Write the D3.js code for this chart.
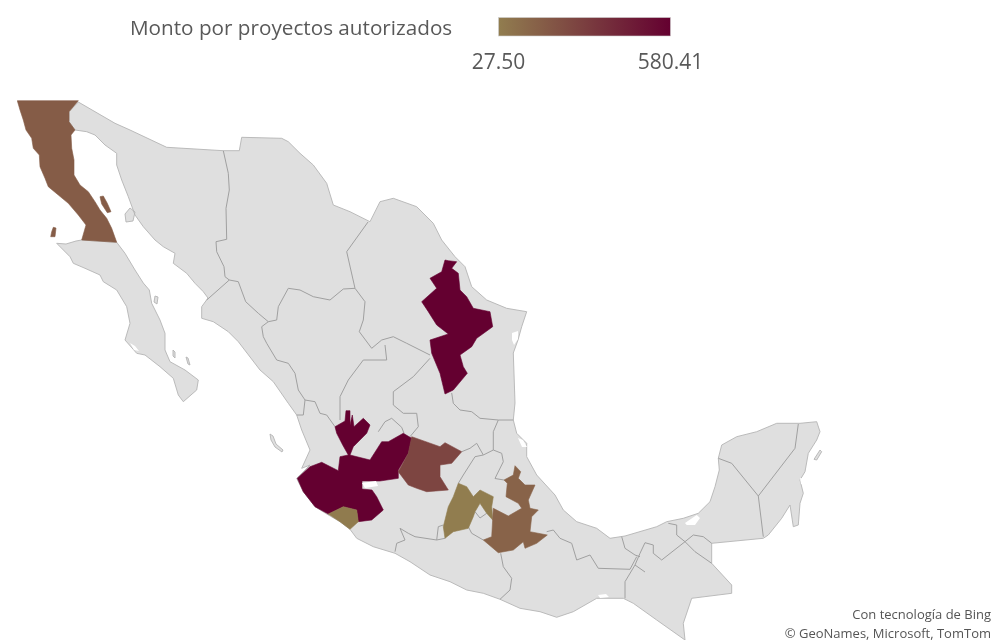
<!DOCTYPE html>
<html>
<head>
<meta charset="utf-8">
<script src="https://cdn.jsdelivr.net/npm/d3@7"></script>
<style>
  html, body { margin: 0; background: #fff; }
  svg { display: block; font-family: "Open Sans", sans-serif; filter: blur(0.7px); }
</style>
</head>
<body>
<div id="map"></div>
<script>
const width = 992, height = 640;

// legend
const legendTitle = "Monto por proyectos autorizados";
const legendDomain = [27.50, 580.41];
const attribution = ["Con tecnología de Bing", "© GeoNames, Microsoft, TomTom"];

// states that have a value
const stateNames = ["Baja California", "Nuevo León", "Jalisco", "Colima", "Guanajuato", "México", "Puebla"];
const stateValues = [172, 580.41, 580.41, 38, 276, 27.50, 143];

// outlines, in map units
const bajaCalifornia = [[17.3,100.7],[78.3,100.7],[69,111.7],[69,121.7],[75,130],[71,135],[71.7,148.3],[74,160],[74,175],[80,185],[88.3,191.7],[95,201.7],[100,210],[106.7,218.3],[111.7,228.3],[116.7,242.3],[81.7,240],[86,225],[78.3,215],[68.3,203.3],[58.3,195],[48.3,186.7],[45,178.3],[40,166.7],[39.3,155],[33.3,148.3],[31.7,138.3],[26,130],[23.3,120],[20,110]];
const angelIsland = [[100,196.7],[103.3,196],[107.3,203.3],[111,211.7],[107.3,212.7],[101.7,204]];
const cedrosIsland = [[53.3,227.3],[56,228],[55,236.7],[50.7,236.7],[51.7,231.7]];
const nuevoLeon = [[445,260],[448.3,260.7],[456.7,261.7],[451.7,268.3],[458.3,273.3],[460,290],[466.7,296.7],[473.3,308.3],[490,311.7],[492.7,326.7],[476.7,338.3],[471.7,346.7],[460,355],[463.3,366.7],[467.3,373.3],[453.3,390],[445,394],[440,373.3],[431.7,353.3],[430,340],[448.3,334],[436.7,325],[428.3,311.7],[421.7,301.7],[436.7,288.3],[430,278.3],[441.7,271.7]];
const jalisco = [[335,426.7],[345,421],[346,410.7],[350,410.7],[350,425],[352.3,415],[354,426.7],[363.3,418.3],[370,425],[366.7,433.3],[353.3,446.7],[350,455],[370,460],[381.7,441.7],[388.3,441.7],[403.3,433.3],[411.7,438.3],[408.3,453.3],[398.3,470],[398.3,478.3],[380,481],[362,481],[362,489],[372,490],[376.7,496.7],[383.3,510],[371.7,520],[358.3,521.7],[356.7,510],[343.3,506.7],[328.3,514],[315,506.7],[303.3,491.7],[297.3,478.3],[310,466.7],[321.7,462.3],[338.3,470.7],[340,456.7],[348.3,455],[342.7,445],[336.7,433.3]];
const colima = [[328.3,514],[343.3,506.7],[356.7,510],[358.3,521.7],[350,529.3],[340,521.7]];
const guanajuato = [[411.7,436.7],[440,446.7],[445,442.7],[461.7,451.7],[451.7,463.3],[440,465],[440,476.7],[448.3,490],[426.7,491.7],[416.7,488.3],[408.3,485],[398.3,471.7],[408.3,453.3]];
const estadoMexico = [[458.3,483.3],[466.7,486.7],[473.3,496.7],[480,490],[493.3,496.7],[491.7,506.7],[492.7,520],[486.7,513.3],[480,503.3],[475,511.7],[473.3,516.7],[468.3,528.3],[453.3,531.7],[445,538.3],[443.3,526.7],[448.3,506.7],[453.3,496.7]];
const puebla = [[515,465.7],[520.7,471.7],[518.3,478.3],[525,485],[535,485],[528.3,500],[530,508.3],[538.3,510],[531.7,516.7],[530,531.7],[547.3,535],[536.7,543.3],[525,548.3],[523.3,541.7],[513.3,550],[498.3,552.7],[483.3,540],[491.7,536.7],[493.3,508.3],[508.3,516],[521.7,508.3],[518.3,503.3],[506,496.7],[507.3,483.3],[504,480],[513.3,475]];
const stateShapes = [[bajaCalifornia, angelIsland, cedrosIsland], [nuevoLeon], [jalisco], [colima], [guanajuato], [estadoMexico], [puebla]];

const mainland = [[78.3,102],[115,123.3],[130,130],[166.7,147.3],[223.3,150.7],[239.3,150.7],[241.7,137.3],[281.7,138.3],[288.3,141.7],[300,153.3],[313.3,165],[326.7,183.3],[333.3,205],[350,211.7],[370,221.7],[380,201.7],[393.3,198.3],[416.7,206.7],[433.3,223.3],[441.7,240],[455,256.7],[465,266.7],[471.7,286.7],[486.7,300],[506.7,308.3],[526.7,311.7],[521.7,326.7],[518,340],[513.3,353],[515,403],[513.3,420],[516.7,433.3],[526.7,443.3],[526.7,456.7],[536.7,475],[555,495],[563.3,510],[576.7,521.7],[596.7,528.3],[610,538.3],[625,536],[656.7,526.7],[666.7,521.7],[683.3,518.3],[698.3,513.3],[710,501.7],[715,486.7],[719.3,470],[718.3,458.3],[721.7,445],[736.7,436.7],[756.7,431.7],[776.7,423.3],[800,423.3],[816.7,421.7],[820,431.7],[816.7,440],[808.3,453.3],[805,471.7],[800,480],[803.3,493.3],[800,503.3],[798.3,525],[793.3,526.7],[790,505],[781.7,518.3],[768.3,535],[763.3,538.3],[711.7,543.3],[711.7,563.3],[731.7,585],[731.7,593.3],[691.7,598.3],[683.3,623.3],[685,640],[656.7,620],[633.3,603.3],[623.3,598.3],[596.7,598.3],[573.3,611.7],[556.7,617.3],[540,611.7],[520,608.3],[500,599.3],[483.3,593.3],[466.7,590],[450,581.7],[430,575],[410,561.7],[395,553.3],[373.3,546.7],[356.7,538.3],[350,529.3],[340,521.7],[326.7,514],[315,506.7],[303.3,491.7],[296.7,478.3],[310,465],[301.7,468.3],[310,450],[301.7,430],[296.7,415],[288.3,403.3],[273.3,381.7],[260,370],[238.3,341.7],[228.3,331.7],[213.3,321.7],[201.7,318.3],[201.7,306.7],[208,298],[203.3,291.7],[195,283.3],[186.7,273.3],[173.3,263.3],[175,253.3],[163.3,246.7],[155,240],[143.3,226.7],[135,215],[128.3,196.7],[121.7,180],[116.7,165],[116.7,153.3],[105,145],[95,135],[86.7,131.7],[75,130],[69,121.7],[69,111.7]];
const bajaSur = [[81.7,240],[116.7,242.3],[125,253.3],[135,270],[143.3,283],[149.3,290],[151.7,303.3],[160,320],[165,333.3],[165,350],[170,361.7],[185,370],[198.3,380],[196.7,390],[183.3,401.7],[178.3,395],[173.3,378.3],[160,366.7],[145,355],[136.7,353.3],[125,340],[130,323.3],[126.7,306.7],[116.7,290],[103.3,281.7],[100,275],[85,268.3],[73.3,263.3],[70,256.7],[56.7,243.3],[66,244],[76,241]];
const tiburonIsland = [[130,208],[135,212],[133,221],[126,222],[125,214]];
const mariasIslands = [[270,434],[273,436],[276,444],[283,450],[282,452],[275,447],[271,440]];
const cozumelIsland = [[820,450],[821.7,451.7],[816.7,460],[814,459.3]];
const carmenIsland = [[155,296],[158,297],[157,304],[154,302]];
const joseIsland = [[173,350],[175,352],[175,358],[173,356]];
const cerralvoIsland = [[186,357],[188,358],[190,365],[188,364]];
const landShapes = [mainland, bajaSur, tiburonIsland, mariasIslands, cozumelIsland, carmenIsland, joseIsland, cerralvoIsland];

// white water bodies on top of the land
const chapala = [[362,483],[376,481],[378,486],[365,488]];
const terminos = [[685,523],[696.7,515],[700,518],[695,525],[686.7,525]];
const madre = [[512,333],[518,331],[518,339],[514,345],[512,340]];
const tamiahua = [[518,438],[523,440],[527,447],[522,447]];
const magdalena = [[130,343],[135,346],[139,351],[134,350]];
const cuyutlan = [[598,595],[606,594],[609,597],[600,598]];
const bacalar = [[800,478],[805,479],[805,485],[801,484]];
const lakeShapes = [chapala, terminos, madre, tamiahua, magdalena, cuyutlan, bacalar];

// borders between the states
const borderLines = [
  [[223.3,150.7],[228.3,173.3],[229.3,190],[226,208.3],[226.7,239.3],[216,241.7],[216.7,251.7],[224,266.7],[225,276.7],[229.3,280],[206.7,300]],
  [[229.3,280],[238.3,281.7],[245.7,301.7],[258.3,313.3],[268.3,321.7],[261.7,326.7],[263.3,336.7],[266.7,343.3],[276.7,360],[288.3,363.3],[295,373.3],[298.3,390],[305,400],[303.3,415],[296.7,415]],
  [[305,400],[315,401.7],[320,413.3],[326.7,415],[335,426.7]],
  [[268.3,321.7],[276.7,320],[278.3,306.7],[288.3,288.3],[300,290],[313.3,296.7],[330,300],[343.3,289],[355,288.3]],
  [[368,222],[346.7,251.7],[355,288.3],[365,301.7],[363.3,320],[359.3,331.7],[371.7,348.3],[381.7,340],[393.3,336.7],[406.7,343.3],[430,355]],
  [[385,345],[386.7,360],[363.3,360],[348.3,380],[340,396.7],[340,420]],
  [[430,358.3],[413.3,376.7],[393.3,391.7],[393.3,405],[403.3,413.3],[416.7,413.3],[418.3,426.7],[410,436.7]],
  [[378.3,431.7],[385,421.7],[391.7,418.3],[401.7,427.3],[404,433.3]],
  [[451.7,393],[453.3,403.3],[460,410],[471.7,411.7],[480,418.3],[498.3,420],[513.3,420]],
  [[498.3,420],[493.3,431.7],[493.3,450],[483.3,455],[476.7,443.3],[470,448.3],[461.7,451.7]],
  [[475,456.7],[463.3,475],[458.3,483.3]],
  [[483.3,455],[475,456.7]],
  [[493.3,450],[501.7,453.3],[503.3,461.7],[496.7,475],[495,478.5],[504,480]],
  [[395,551.7],[396.7,543.3],[405,540],[400,528.3],[408.3,533.3],[415,536.7],[436.7,540],[445,538.3]],
  [[436.7,540],[438.3,526.7],[443.3,525]],
  [[468.3,526.7],[471.7,533.3],[483.3,540]],
  [[475,511.7],[480,518],[486.7,513.3]],
  [[500.7,553.3],[503.3,566.7],[511.7,578.3],[510,590],[500,599.3]],
  [[546.7,531.7],[553.3,530],[560,538.3],[571.7,543.3],[576.7,560],[590,555],[598.3,568.3],[630,569.3],[636.7,556.7]],
  [[625,598.3],[625,581.7],[635,565],[640,553.3],[645,542.7],[653.3,545],[653.3,553.3],[661.7,560],[685,541.7],[693.3,535],[703.3,536.7],[711.7,543.3]],
  [[621.7,536.7],[625,548.3],[635,555],[640,556.7]],
  [[635,565],[645,572]],
  [[668.3,523.3],[676.7,525],[676.7,535],[685,541.7],[695,551.7],[711.7,563.3]],
  [[718.3,458.3],[731.7,463.3],[758.3,496],[763.3,536.7]],
  [[798.3,424],[795,448.3],[758.3,496]]
];

const svg = d3.select("#map")
  .append("svg")
  .attr("width", width)
  .attr("height", height)
  .attr("viewBox", [0, 0, width, height]);

const color = d3.scaleLinear()
  .domain(legendDomain)
  .range(["#917D4F", "#640030"]);

const path = d3.geoPath(d3.geoIdentity());

const closed = ring => ring.concat([ring[0]]);
const polygon = rings => ({ type: "MultiPolygon", coordinates: rings.map(r => [closed(r)]) });

// gray land and borders
svg.append("path")
  .datum(polygon(landShapes))
  .attr("d", path)
  .attr("fill", "#DFDFDF")
  .attr("stroke", "#B4B4B4")
  .attr("stroke-width", 0.9)
  .attr("stroke-linejoin", "round");

svg.append("path")
  .datum({ type: "MultiLineString", coordinates: borderLines })
  .attr("d", path)
  .attr("fill", "none")
  .attr("stroke", "#A0A0A0")
  .attr("stroke-width", 1);

// colored states
svg.selectAll("path.state")
  .data(stateNames)
  .enter()
  .append("path")
  .attr("class", "state")
  .attr("d", (d, i) => path(polygon(stateShapes[i])))
  .attr("fill", (d, i) => color(stateValues[i]))
  .attr("stroke", (d, i) => color(stateValues[i]))
  .attr("stroke-width", 0.6)
  .attr("stroke-linejoin", "round");

// lakes
svg.append("path")
  .datum(polygon(lakeShapes))
  .attr("d", path)
  .attr("fill", "#fff");

// legend
const defs = svg.append("defs");
const grad = defs.append("linearGradient").attr("id", "legend-grad");
grad.selectAll("stop")
  .data(legendDomain)
  .enter()
  .append("stop")
  .attr("offset", (d, i) => i * 100 + "%")
  .attr("stop-color", d => color(d));

svg.append("text")
  .attr("x", 130)
  .attr("y", 35)
  .attr("font-size", 20.7)
  .attr("fill", "#595959")
  .text(legendTitle);

const legendX = d3.scaleLinear().domain(legendDomain).range([498.5, 670.5]);

svg.append("rect")
  .attr("x", legendX(legendDomain[0]))
  .attr("y", 17.5)
  .attr("width", legendX(legendDomain[1]) - legendX(legendDomain[0]))
  .attr("height", 18.5)
  .attr("fill", "url(#legend-grad)")
  .attr("stroke", "#D0D0D0")
  .attr("stroke-width", 0.6);

svg.selectAll("text.legend-label")
  .data(legendDomain)
  .enter()
  .append("text")
  .attr("class", "legend-label")
  .attr("x", d => legendX(d))
  .attr("y", 69)
  .attr("text-anchor", "middle")
  .attr("font-size", 21)
  .attr("fill", "#595959")
  .text(d => d3.format(".2f")(d));

svg.selectAll("text.credit")
  .data(attribution)
  .enter()
  .append("text")
  .attr("class", "credit")
  .attr("x", 991)
  .attr("y", (d, i) => 619 + i * 18.5)
  .attr("text-anchor", "end")
  .attr("font-size", 13)
  .attr("fill", "#555")
  .text(d => d);
</script>
</body>
</html>
